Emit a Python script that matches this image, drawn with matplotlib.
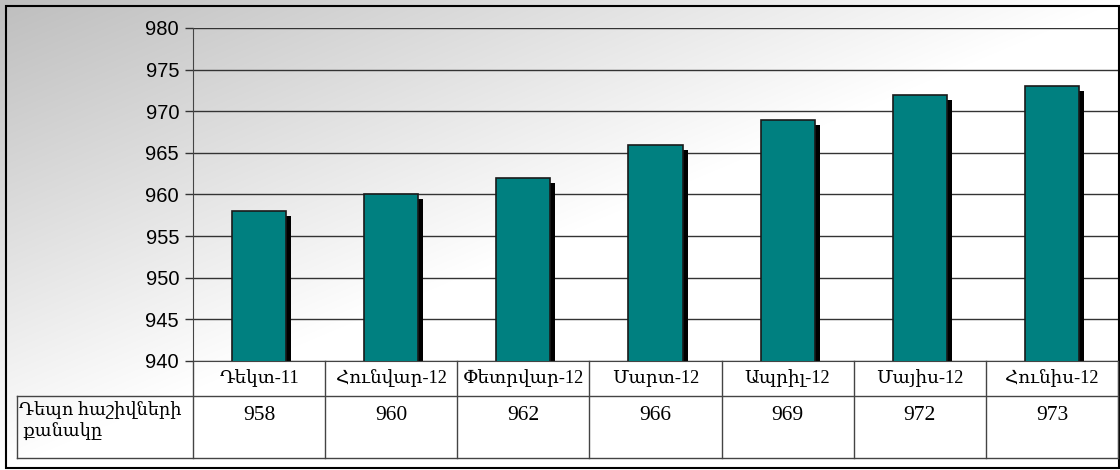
import numpy as np
import matplotlib
matplotlib.use('Agg')
import matplotlib.pyplot as plt
import matplotlib.transforms as mtransforms
from matplotlib.patches import Rectangle

months = ['Դեկտ-11', 'Հունվար-12', 'Փետրվար-12', 'Մարտ-12', 'Ապրիլ-12', 'Մայիս-12', 'Հունիս-12']
accounts = [958, 960, 962, 966, 969, 972, 973]
row_label = 'Դեպո հաշիվների\n քանակը'
y_ticks = [940, 945, 950, 955, 960, 965, 970, 975, 980]

W, H = 1120, 470
serif = ['Liberation Serif', 'DejaVu Serif', 'DejaVu Sans']
sans = ['Liberation Sans', 'DejaVu Sans']

fig = plt.figure(figsize=(W / 100, H / 100), dpi=100)

# diagonal grey -> white background
bg = fig.add_axes([0, 0, 1, 1], zorder=-10)
yy, xx = np.mgrid[0:H, 0:W]
s = np.clip(xx / W + yy / H, 0, 1)
g = (190 + (255 - 190) * s) / 255
bg.imshow(np.dstack([g, g, g]), extent=[0, 1, 0, 1], aspect='auto', origin='upper')
bg.set_xlim(0, 1)
bg.set_ylim(0, 1)
bg.axis('off')

def fx(px):
    return px / W

def fy(py):
    return 1 - py / H

left, right, top, bottom = 193, 1118, 28, 361
ax = fig.add_axes([fx(left), fy(bottom), fx(right - left), fy(top) - fy(bottom)])
ax.patch.set_visible(False)

x = np.arange(len(months))
bw = 0.41
shadow = ax.transData + mtransforms.ScaledTranslation(5 / 100, -5 / 100, fig.dpi_scale_trans)
ax.bar(x, accounts, width=bw, bottom=0, color='black', transform=shadow, zorder=2)
ax.bar(x, accounts, width=bw, color='#008080', edgecolor='#1a1a1a', linewidth=1.2, zorder=3)

ax.set_xlim(-0.5, len(months) - 0.5)
ax.set_ylim(940, 980)
ax.set_yticks(y_ticks)
ax.set_yticklabels([str(t) for t in y_ticks], family=sans, fontsize=14.5)
ax.set_xticks([])
ax.tick_params(axis='y', direction='out', length=6, width=1, color='#333333', pad=4)
ax.yaxis.grid(True, color='#333333', linewidth=1)
ax.set_axisbelow(True)
for sp in ['top', 'right']:
    ax.spines[sp].set_visible(False)
ax.spines['left'].set_color('#444444')
ax.spines['bottom'].set_color('#444444')

# data table under the chart
tr = mtransforms.blended_transform_factory(ax.transData, fig.transFigure)
lc = '#444444'
y_head, y_mid, y_end = 361, 396, 458
for b in np.append(x - 0.5, x[-1] + 0.5):
    fig.add_artist(plt.Line2D([b, b], [fy(y_head), fy(y_end)], transform=tr, color=lc, lw=1))
for yl in [y_mid, y_end]:
    fig.add_artist(plt.Line2D([fx(17), fx(right)], [fy(yl), fy(yl)], transform=fig.transFigure, color=lc, lw=1))
fig.add_artist(plt.Line2D([fx(17), fx(17)], [fy(y_mid), fy(y_end)], transform=fig.transFigure, color=lc, lw=1))

for i, (m, v) in enumerate(zip(months, accounts)):
    fig.text(x[i], fy(378), m, transform=tr, ha='center', va='center', family=serif, fontsize=13.2)
    fig.text(x[i], fy(416), str(v), transform=tr, ha='center', va='center', family=serif, fontsize=15.5)
fig.text(fx(19), fy(401), row_label, ha='left', va='top', family=serif, fontsize=12.8, linespacing=1.3)

# outer frame
fig.add_artist(Rectangle((fx(5.5), fy(467.5)), fx(1113), fy(5.5) - fy(467.5),
                         transform=fig.transFigure, fill=False, edgecolor='black', lw=1.5))

fig.savefig('out.png', dpi=100)
